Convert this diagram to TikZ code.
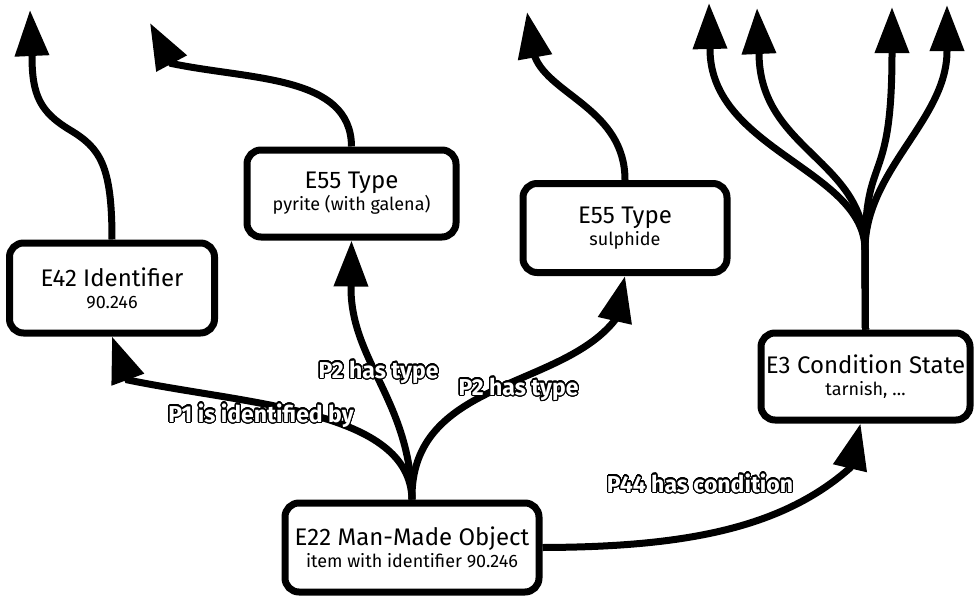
\documentclass[tikz,border=0pt]{standalone}
\usepackage{fontspec}
\setmainfont{Fira Sans}
\usepackage{contour}
\contourlength{1.2pt}
\contournumber{32}
\usetikzlibrary{arrows.meta,calc}
\pgfdeclarelayer{bg}
\pgfsetlayers{bg,main}
\begin{document}
\begin{tikzpicture}[x=1pt,y=-1pt,
  box/.style={draw,line width=7pt,rounded corners=14pt,fill=white,align=center,inner sep=0pt,
    font=\fontsize{24}{24}\selectfont},
  conn/.style={line width=7pt,-{Triangle[length=46pt,width=33pt]}},
  lab/.style={font=\fontsize{23}{24}\selectfont\bfseries,inner sep=0pt,anchor=base,text=white}]
\useasboundingbox (0,0) rectangle (975,597);
% nodes
\node[box,minimum width=205pt,minimum height=90pt] (e42) at (112,288)
  {E42 Identifier\\[-2pt]{\fontsize{18}{18}\selectfont 90.246}};
\node[box,minimum width=209pt,minimum height=87pt] (t1) at (351.5,193.5)
  {E55 Type\\[-2pt]{\fontsize{18}{18}\selectfont pyrite (with galena)}};
\node[box,minimum width=204pt,minimum height=89pt] (t2) at (625,228)
  {E55 Type\\[-2pt]{\fontsize{18}{18}\selectfont sulphide}};
\node[box,minimum width=209pt,minimum height=87pt] (e3) at (865.5,376.5)
  {E3 Condition State\\[-2pt]{\fontsize{18}{18}\selectfont tarnish, \dots}};
\node[box,minimum width=254pt,minimum height=89pt] (e22) at (412,547.5)
  {E22 Man-Made Object\\[-2pt]{\fontsize{18}{18}\selectfont item with identifier 90.246}};
% free ends
\coordinate (u1) at (30,10);
\coordinate (u2) at (150,23);
\coordinate (u3) at (527,12);
\coordinate (u4) at (709,3);
\coordinate (u5) at (757,8);
\coordinate (u6) at (892,7);
\coordinate (u7) at (947,5);
\begin{pgfonlayer}{bg}
\draw[conn] (e22.north) .. controls (410,410) and (250,405) .. (128,380) -- (e42.south);
\draw[conn] (e22.north) .. controls (410,400) and (350,360) .. (351,286) -- (t1.south);
\draw[conn] (e22.north) .. controls (410,380) and (560,390) .. (615,320) -- (t2.south);
\draw[conn] (e22.east) .. controls (680,547) and (780,530) .. (850,468) -- ($(e3.south)+(-5,0)$);
\draw[conn] (e42.north) .. controls (112,165) and (100,148) .. (70,130)
  .. controls (40,112) and (32,95) .. (32,56) -- (u1);
\draw[conn] (t1.north) .. controls (351,75) and (250,80) .. (171.6,63.5) -- (u2);
\draw[conn] (t2.north) .. controls (625,110) and (550,95) .. (535,57) -- (u3);
\draw[conn] (e3.north) -- (865,250) .. controls (865,170) and (710,150) .. (710,49) -- (u4);
\draw[conn] (e3.north) -- (865,250) .. controls (865,160) and (760,150) .. (759,54) -- (u5);
\draw[conn] (e3.north) -- (865,250) .. controls (865,150) and (892,190) .. (892,53) -- (u6);
\draw[conn] (e3.north) -- (865,250) .. controls (865,170) and (947,120) .. (947,51) -- (u7);
\end{pgfonlayer}
% labels
\node[lab] (l1) at (261,422) {\contour{black}{P1 is identified by}};
\node[lab] (l2) at (378.5,378) {\contour{black}{P2 has type}};
\node[lab] (l3) at (518.5,395) {\contour{black}{P2 has type}};
\node[lab] (l4) at (700,492) {\contour{black}{P44 has condition}};
\end{tikzpicture}
\end{document}
